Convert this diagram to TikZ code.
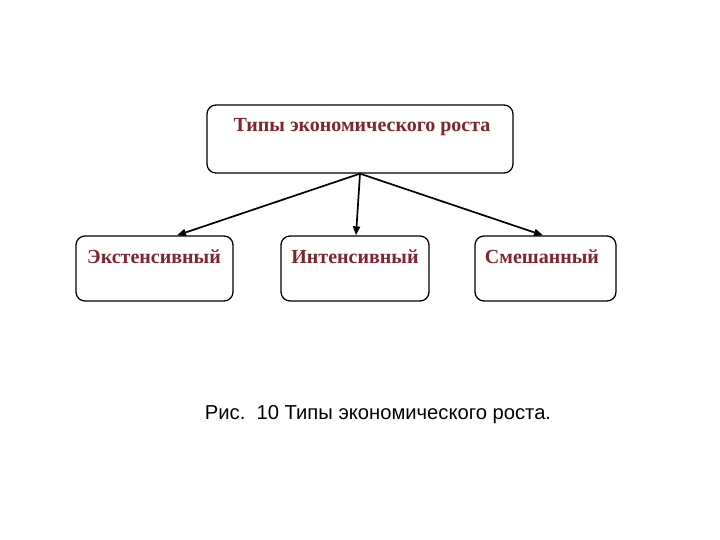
\documentclass[tikz,border=0pt]{standalone}
\usepackage{fontspec}
\usepackage{xcolor}
\usepackage{tikz}
\usetikzlibrary{arrows.meta,calc}
\setmainfont{Liberation Serif}
\newfontfamily\capfont{Liberation Sans}
\definecolor{typred}{RGB}{125,38,45}

\begin{document}
\begin{tikzpicture}[x=1pt,y=-1pt,
            box/.style={draw,rounded corners=9pt,line width=1.3pt,inner sep=0pt},
            txt/.style={text=typred,font=\fontsize{20}{22}\selectfont\bfseries,inner sep=0pt},
            arr/.style={-{Triangle[length=9pt,width=7pt]},line width=1.7pt}]
            \useasboundingbox (0,0) rectangle (720,540);

            \node[box,minimum width=306pt,minimum height=68pt] (top) at (360,139) {};
            \node[txt] (topT) at (362,127) {Типы экономического роста};

            \node[box,minimum width=157pt,minimum height=65pt] (ext) at (154.5,268.5) {};
            \node[txt] (extT) at (154,257) {Экстенсивный};

            \node[box,minimum width=148pt,minimum height=65pt] (int) at (355,268.5) {};
            \node[txt] (intT) at (355,257) {Интенсивный};

            \node[box,minimum width=141pt,minimum height=65pt] (mix) at (545.5,268.5) {};
            \node[txt] (mixT) at (542,257) {Смешанный};

            \draw[arr] (top.south) -- ($(ext.north)+(22.5,0)$);
            \draw[arr] (top.south) -- ($(int.north)+(1,0)$);
            \draw[arr] (top.south) -- ($(mix.north)+(-2.5,0)$);

            \node[font=\capfont\fontsize{20.2}{22}\selectfont,inner sep=0pt] (cap) at (378,415) {Рис.\ \ 10 Типы экономического роста.};
        \end{tikzpicture}
\end{document}
